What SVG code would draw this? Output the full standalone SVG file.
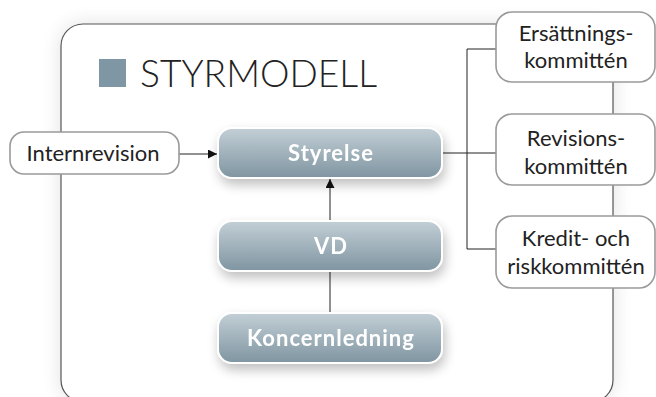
<svg xmlns="http://www.w3.org/2000/svg" width="656" height="397" viewBox="0 0 656 397">
<defs>
<linearGradient id="g" x1="0" y1="0" x2="0" y2="1">
<stop offset="0" stop-color="#c3cfd6"/>
<stop offset="1" stop-color="#7f95a1"/>
</linearGradient>
<filter id="sh" x="-20%" y="-30%" width="140%" height="180%">
<feGaussianBlur in="SourceAlpha" stdDeviation="6"/>
<feOffset dx="2" dy="6" result="b"/>
<feComponentTransfer><feFuncA type="linear" slope="0.25"/></feComponentTransfer>
<feMerge><feMergeNode/><feMergeNode in="SourceGraphic"/></feMerge>
</filter>
<filter id="fsh" x="-10%" y="-10%" width="120%" height="120%">
<feGaussianBlur in="SourceAlpha" stdDeviation="10"/>
<feComponentTransfer><feFuncA type="linear" slope="0.12"/></feComponentTransfer>
<feMerge><feMergeNode/><feMergeNode in="SourceGraphic"/></feMerge>
</filter>
<marker id="ah" viewBox="0 0 10 10" refX="10" refY="5" markerWidth="9" markerHeight="9" markerUnits="userSpaceOnUse" orient="auto">
<path d="M0,0 L10,5 L0,10 z" fill="#111"/>
</marker>
</defs>
<style>
.frame{fill:#fff;stroke:#555;stroke-width:1.2}
.blue{fill:url(#g);stroke:#fff;stroke-width:2}
.white{fill:#fff;stroke:#9a9a9a;stroke-width:1.6}
.bt{font-family:Lato,"Liberation Sans",sans-serif;font-weight:bold;font-size:22px;letter-spacing:1px;fill:#fff;text-anchor:middle}
.wt{font-family:Lato,"Liberation Sans",sans-serif;font-size:22px;fill:#222;text-anchor:middle}
.ln{stroke:#222;stroke-width:1;fill:none}
</style>
<rect width="656" height="397" fill="#fff"/>
<g id="frame">
<rect class="frame" x="61" y="24" width="552" height="378" rx="22" filter="url(#fsh)"/>
<rect x="99" y="59" width="27" height="28" fill="#7f97a5"/>
<text x="140" y="87" font-family="Lato,'Liberation Sans',sans-serif" font-weight="300" font-size="38" fill="#222" textLength="237" lengthAdjust="spacingAndGlyphs">STYRMODELL</text>
</g>
<g id="connectors">
<line class="ln" x1="179" y1="154" x2="217" y2="154" marker-end="url(#ah)"/>
<line class="ln" x1="330" y1="221" x2="330" y2="179" marker-end="url(#ah)"/>
<line class="ln" x1="330" y1="313" x2="330" y2="271"/>
<path class="ln" d="M442,153 H467 M467,49 V249 M467,49 H496 M467,153 H496 M467,249 H496"/>
</g>
<g id="internrevision">
<rect class="white" x="10" y="132" width="169" height="42" rx="14"/>
<text class="wt" x="93" y="161">Internrevision</text>
</g>
<g id="styrelse" filter="url(#sh)">
<rect class="blue" x="218" y="128" width="224" height="50" rx="14"/>
<text class="bt" x="331" y="161">Styrelse</text>
</g>
<g id="vd" filter="url(#sh)">
<rect class="blue" x="218" y="221" width="224" height="50" rx="14"/>
<text class="bt" x="331" y="254">VD</text>
</g>
<g id="koncernledning" filter="url(#sh)">
<rect class="blue" x="218" y="313" width="224" height="50" rx="14"/>
<text class="bt" x="331" y="346">Koncernledning</text>
</g>
<g id="ersattning">
<rect class="white" x="496" y="12" width="159" height="70" rx="16"/>
<text class="wt" x="576" y="41">Ersättnings-</text>
<text class="wt" x="576" y="68">kommittén</text>
</g>
<g id="revision">
<rect class="white" x="496" y="114" width="159" height="71" rx="16"/>
<text class="wt" x="576" y="146">Revisions-</text>
<text class="wt" x="576" y="174">kommittén</text>
</g>
<g id="kredit">
<rect class="white" x="496" y="216" width="159" height="72" rx="16"/>
<text class="wt" x="576" y="246">Kredit- och</text>
<text class="wt" x="576" y="274">riskkommittén</text>
</g>
</svg>
